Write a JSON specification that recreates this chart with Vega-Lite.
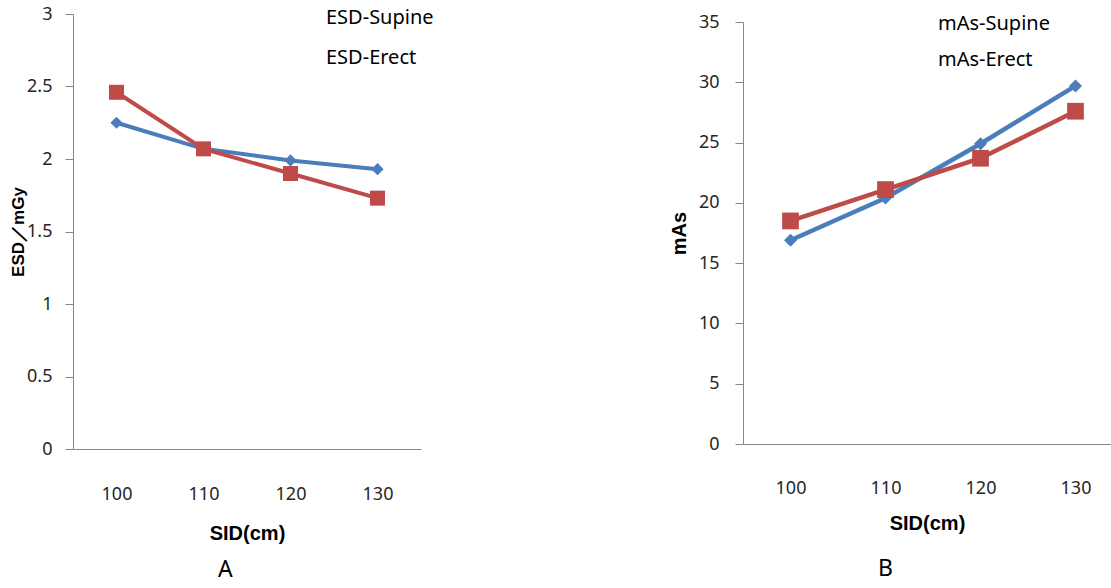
{
  "$schema": "https://vega.github.io/schema/vega-lite/v6.json",
  "background": "white",
  "padding": {"left": 9, "top": 5, "right": 0, "bottom": 0},
  "autosize": {"type": "pad"},
  "bounds": "flush",
  "spacing": 322,
  "resolve": {"scale": {"color": "independent", "shape": "independent"}, "legend": {"color": "independent", "shape": "independent"}},
  "datasets": {
    "esd": [
      {"SID": 100, "series": "ESD-Supine", "value": 2.25},
      {"SID": 110, "series": "ESD-Supine", "value": 2.07},
      {"SID": 120, "series": "ESD-Supine", "value": 1.99},
      {"SID": 130, "series": "ESD-Supine", "value": 1.93},
      {"SID": 100, "series": "ESD-Erect", "value": 2.46},
      {"SID": 110, "series": "ESD-Erect", "value": 2.07},
      {"SID": 120, "series": "ESD-Erect", "value": 1.90},
      {"SID": 130, "series": "ESD-Erect", "value": 1.73}
    ],
    "mas": [
      {"SID": 100, "series": "mAs-Supine", "value": 16.9},
      {"SID": 110, "series": "mAs-Supine", "value": 20.4},
      {"SID": 120, "series": "mAs-Supine", "value": 24.9},
      {"SID": 130, "series": "mAs-Supine", "value": 29.7},
      {"SID": 100, "series": "mAs-Erect", "value": 18.5},
      {"SID": 110, "series": "mAs-Erect", "value": 21.1},
      {"SID": 120, "series": "mAs-Erect", "value": 23.7},
      {"SID": 130, "series": "mAs-Erect", "value": 27.6}
    ]
  },
  "config": {
    "view": {"stroke": null},
    "font": "Noto Sans",
    "axis": {
      "grid": false,
      "domainColor": "#868686",
      "tickColor": "#868686",
      "labelColor": "#262626",
      "labelFont": "Noto Sans",
      "labelFontSize": 18,
      "titleColor": "#000000",
      "titleFont": "Liberation Sans",
      "titleFontWeight": "bold"
    }
  },
  "hconcat": [
    {
      "width": 348,
      "height": 435,
      "data": {"name": "esd"},
      "title": {"text": "A", "orient": "bottom", "anchor": "start", "frame": "group", "dx": 145, "offset": 16, "fontSize": 23, "font": "Noto Sans", "fontWeight": "normal", "color": "#000000"},
      "encoding": {
        "x": {"field": "SID", "type": "quantitative", "scale": {"domain": [95, 135], "nice": false, "zero": false},
          "axis": {"values": [100, 110, 120, 130], "format": "d", "ticks": false, "tickSize": 0, "labelPadding": 36, "title": "SID(cm)", "titleFontSize": 20, "titlePadding": 20}},
        "y": {"field": "value", "type": "quantitative", "scale": {"domain": [0, 3], "nice": false},
          "axis": {"values": [0, 0.5, 1, 1.5, 2, 2.5, 3], "format": "~g", "tickSize": 8, "labelPadding": 13, "title": "ESD／mGy", "titleFontSize": 17, "titleX": -55, "titleBaseline": "middle"}}
      },
      "layer": [
        {
          "transform": [{"filter": "datum.series === 'ESD-Supine'"}],
          "mark": {"type": "line", "strokeWidth": 4, "color": "#4a7ebb"}
        },
        {
          "transform": [{"filter": "datum.series === 'ESD-Erect'"}],
          "mark": {"type": "line", "strokeWidth": 4, "color": "#be4b48"}
        },
        {
          "transform": [{"filter": "datum.series === 'ESD-Supine'"}],
          "mark": {"type": "point", "filled": true, "opacity": 1, "shape": "diamond", "size": 150, "color": "#4a7ebb", "strokeWidth": 0}
        },
        {
          "transform": [{"filter": "datum.series === 'ESD-Erect'"}],
          "mark": {"type": "point", "filled": true, "opacity": 1, "shape": "square", "size": 225, "color": "#be4b48", "strokeWidth": 0}
        },
        {
          "mark": {"type": "point", "filled": true, "opacity": 0},
          "encoding": {
            "shape": {"field": "series", "type": "nominal", "scale": {"domain": ["ESD-Supine", "ESD-Erect"], "range": ["diamond", "square"]}},
            "color": {"field": "series", "type": "nominal", "scale": {"domain": ["ESD-Supine", "ESD-Erect"], "range": ["#4a7ebb", "#be4b48"]},
              "legend": {"orient": "none", "legendX": 216, "legendY": -6, "title": null, "direction": "vertical", "padding": 0,
                "symbolSize": 180, "symbolStrokeWidth": 0, "symbolOpacity": 1, "rowPadding": 20, "labelOffset": 17,
                "labelFont": "Noto Sans", "labelFontSize": 20, "labelColor": "#000000"}}
          }
        }
      ]
    },
    {
      "width": 368,
      "height": 430,
      "data": {"name": "mas"},
      "title": {"text": "B", "orient": "bottom", "anchor": "start", "frame": "group", "dx": 135, "offset": 25, "fontSize": 23, "font": "Noto Sans", "fontWeight": "normal", "color": "#000000"},
      "encoding": {
        "x": {"field": "SID", "type": "quantitative", "scale": {"domain": [95, 133.737], "nice": false, "zero": false},
          "axis": {"values": [100, 110, 120, 130], "format": "d", "ticks": false, "tickSize": 0, "labelPadding": 35, "title": "SID(cm)", "titleFontSize": 20, "titlePadding": 16}},
        "y": {"field": "value", "type": "quantitative", "scale": {"domain": [0, 35], "nice": false, "range": [430, 8]},
          "axis": {"values": [0, 5, 10, 15, 20, 25, 30, 35], "format": "d", "tickSize": 8, "labelPadding": 16, "title": "mAs", "titleFontSize": 20, "titleX": -64, "titleBaseline": "middle"}}
      },
      "layer": [
        {
          "transform": [{"filter": "datum.series === 'mAs-Supine'"}],
          "mark": {"type": "line", "strokeWidth": 4.5, "color": "#4a7ebb"}
        },
        {
          "transform": [{"filter": "datum.series === 'mAs-Erect'"}],
          "mark": {"type": "line", "strokeWidth": 4.5, "color": "#be4b48"}
        },
        {
          "transform": [{"filter": "datum.series === 'mAs-Supine'"}],
          "mark": {"type": "point", "filled": true, "opacity": 1, "shape": "diamond", "size": 170, "color": "#4a7ebb", "strokeWidth": 0}
        },
        {
          "transform": [{"filter": "datum.series === 'mAs-Erect'"}],
          "mark": {"type": "point", "filled": true, "opacity": 1, "shape": "square", "size": 280, "color": "#be4b48", "strokeWidth": 0}
        },
        {
          "mark": {"type": "point", "filled": true, "opacity": 0},
          "encoding": {
            "shape": {"field": "series", "type": "nominal", "scale": {"domain": ["mAs-Supine", "mAs-Erect"], "range": ["diamond", "square"]}},
            "color": {"field": "series", "type": "nominal", "scale": {"domain": ["mAs-Supine", "mAs-Erect"], "range": ["#4a7ebb", "#be4b48"]},
              "legend": {"orient": "none", "legendX": 156, "legendY": 0, "title": null, "direction": "vertical", "padding": 0,
                "symbolSize": 200, "symbolStrokeWidth": 0, "symbolOpacity": 1, "rowPadding": 16, "labelOffset": 19,
                "labelFont": "Noto Sans", "labelFontSize": 20, "labelColor": "#000000"}}
          }
        }
      ]
    }
  ]
}
